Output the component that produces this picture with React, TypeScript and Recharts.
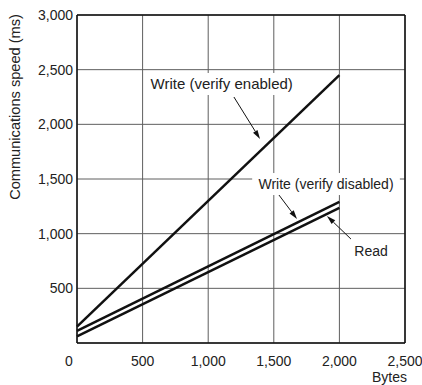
// Communications speed vs bytes - line chart with callouts

import React from 'react';
import {
  LineChart,
  Line,
  XAxis,
  YAxis,
  CartesianGrid,
  ReferenceLine,
  ReferenceDot,
} from 'recharts';

const bytes = [0, 2000];
const writeVerifyEnabled = [150, 2450];
const writeVerifyDisabled = [110, 1290];
const readSpeed = [60, 1235];

const xTicks = [0, 500, 1000, 1500, 2000, 2500];
const yTicks = [0, 500, 1000, 1500, 2000, 2500, 3000];

// callout labels: text, anchor point in data units
const labelTexts = ['Write (verify enabled)', 'Write (verify disabled)', 'Read'];
const labelX = [1103, 1898, 2241];
const labelY = [2369, 1454, 841];
const labelSize = [15, 14, 14];

// callout arrows: start -> tip, in data units
const arrowFromX = [1196, 1539, 2088];
const arrowFromY = [2250, 1354, 951];
const arrowToX = [1395, 1677, 1905];
const arrowToY = [1866, 1134, 1162];

const FONT = '"Liberation Sans", Arial, sans-serif';
const TEXT = '#222';

const toRows = (ys: number[]) => bytes.map((b, i) => ({ bytes: b, value: ys[i] }));

function XTick(props: any) {
  const { x, y, payload } = props;
  const shift = payload.value === 0 ? -8 : 0;
  return (
    <text x={x + shift} y={y + 15} textAnchor="middle" fontSize={14} fontFamily={FONT} fill={TEXT}>
      {payload.value.toLocaleString('en-US')}
    </text>
  );
}

function YTick(props: any) {
  const { x, y, payload } = props;
  if (payload.value === 0) return null;
  return (
    <text x={x + 4} y={y + 5} textAnchor="end" fontSize={14} fontFamily={FONT} fill={TEXT}>
      {payload.value.toLocaleString('en-US')}
    </text>
  );
}

function Arrow(props: any) {
  const { x1, y1, x2, y2 } = props;
  const ang = Math.atan2(y2 - y1, x2 - x1);
  const len = 9;
  const half = 2.6;
  const bx = x2 - len * Math.cos(ang);
  const by = y2 - len * Math.sin(ang);
  const px = -Math.sin(ang) * half;
  const py = Math.cos(ang) * half;
  return (
    <g>
      <line x1={x1} y1={y1} x2={bx} y2={by} stroke="#111" strokeWidth={1} />
      <polygon points={`${x2},${y2} ${bx + px},${by + py} ${bx - px},${by - py}`} fill="#111" />
    </g>
  );
}

function makeLabel(text: string, size: number) {
  return (props: any) => {
    const { cx, cy } = props;
    const w = text.length * size * 0.44 + 6;
    return (
      <g>
        <rect x={cx - w / 2} y={cy - 11} width={w} height={22} fill="#fff" />
        <text x={cx} y={cy + 5} textAnchor="middle" fontSize={size} fontFamily={FONT} fill={TEXT}>
          {text}
        </text>
      </g>
    );
  };
}

export default function App() {
  return (
    <div style={{ position: 'absolute', left: 0, top: 0, width: 422, height: 385, background: '#fff' }}>
      <LineChart width={422} height={385} margin={{ top: 15, right: 17, bottom: 0, left: 0 }}>
        <CartesianGrid stroke="#5e5e5e" strokeWidth={1} />
        <XAxis
          type="number"
          dataKey="bytes"
          domain={[0, 2500]}
          ticks={xTicks}
          height={42}
          tickLine={false}
          axisLine={{ stroke: '#111', strokeWidth: 1.5 }}
          tick={<XTick />}
          interval={0}
          label={{
            content: (p: any) => (
              <text
                x={p.viewBox.x + p.viewBox.width + 2}
                y={p.viewBox.y + 39}
                textAnchor="end"
                fontSize={14}
                fontFamily={FONT}
                fill={TEXT}
              >
                Bytes
              </text>
            ),
          }}
        />
        <YAxis
          type="number"
          domain={[0, 3000]}
          ticks={yTicks}
          width={77}
          tickLine={false}
          axisLine={{ stroke: '#111', strokeWidth: 1.5 }}
          tick={<YTick />}
          interval={0}
          label={{
            content: (p: any) => {
              const lx = 15;
              const ly = p.viewBox.y + 92;
              return (
                <text
                  x={lx}
                  y={ly}
                  transform={`rotate(-90, ${lx}, ${ly})`}
                  textAnchor="middle"
                  dominantBaseline="central"
                  fontSize={14.6}
                  fontFamily={FONT}
                  fill={TEXT}
                >
                  Communications speed (ms)
                </text>
              );
            },
          }}
        />
        <ReferenceLine y={3000} stroke="#111" strokeWidth={1.5} />
        <ReferenceLine x={2500} stroke="#111" strokeWidth={1.5} />

        <Line
          data={toRows(writeVerifyEnabled)}
          dataKey="value"
          type="linear"
          stroke="#111"
          strokeWidth={2.5}
          dot={false}
          isAnimationActive={false}
        />
        <Line
          data={toRows(writeVerifyDisabled)}
          dataKey="value"
          type="linear"
          stroke="#111"
          strokeWidth={2.5}
          dot={false}
          isAnimationActive={false}
        />
        <Line
          data={toRows(readSpeed)}
          dataKey="value"
          type="linear"
          stroke="#111"
          strokeWidth={2.5}
          dot={false}
          isAnimationActive={false}
        />

        {labelTexts.map((t, i) => (
          <ReferenceDot key={t} x={labelX[i]} y={labelY[i]} r={0} shape={makeLabel(t, labelSize[i])} />
        ))}
        {labelTexts.map((t, i) => (
          <ReferenceLine
            key={'a' + t}
            segment={[
              { x: arrowFromX[i], y: arrowFromY[i] },
              { x: arrowToX[i], y: arrowToY[i] },
            ]}
            shape={(p: any) => <Arrow {...p} />}
          />
        ))}
      </LineChart>
    </div>
  );
}
